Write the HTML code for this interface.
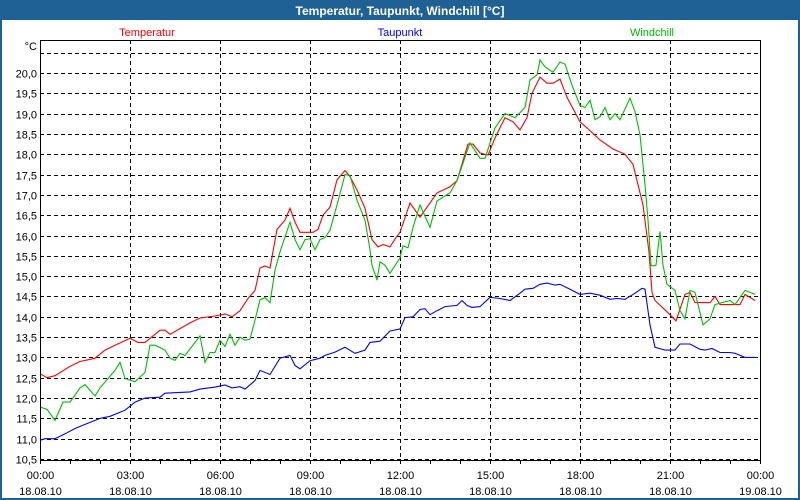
<!DOCTYPE html>
<html><head><meta charset="utf-8">
<style>
body{margin:0;background:#fff;}
#wrap{position:relative;width:800px;height:500px;overflow:hidden;font-family:"Liberation Sans",sans-serif;}
svg text{font-family:"Liberation Sans",sans-serif;}
</style></head>
<body>
<div id="wrap">
<svg id="chart" width="800" height="500">
<rect x="0" y="0" width="800" height="500" fill="#1f6195"/>
<rect x="2" y="20" width="796" height="478" fill="#ffffff"/>
<text x="400" y="15" fill="#fff" font-size="12" font-weight="bold" text-anchor="middle">Temperatur, Taupunkt, Windchill [°C]</text>
<text x="147" y="36" fill="#ff0000" font-size="11" text-anchor="middle">Temperatur</text>
<text x="400" y="36" fill="#0000ff" font-size="11" text-anchor="middle">Taupunkt</text>
<text x="652" y="36" fill="#00bb00" font-size="11" text-anchor="middle">Windchill</text>
<text x="37" y="50" fill="#000" font-size="11" text-anchor="end">°C</text>
<g id="grid"></g><g id="series"></g><g id="axes"></g>
</svg>
</div>
<script>
const yTicks=[10.5,11.0,11.5,12.0,12.5,13.0,13.5,14.0,14.5,15.0,15.5,16.0,16.5,17.0,17.5,18.0,18.5,19.0,19.5,20.0,20.5];
const xTickTimes=["00:00","03:00","06:00","09:00","12:00","15:00","18:00","21:00","00:00"];
const xTickDates=["18.08.10","18.08.10","18.08.10","18.08.10","18.08.10","18.08.10","18.08.10","18.08.10","19.08.10"];
const tempMin=[0,14,30,60,80,110,130,150,180,196,210,230,240,250,260,300,320,350,370,384,400,416,430,440,450,460,474,490,500,510,520,546,556,566,580,594,610,620,634,650,664,676,686,700,712,720,740,760,794,820,834,856,866,880,896,910,930,946,960,974,984,1000,1014,1026,1040,1054,1080,1094,1120,1146,1170,1186,1196,1206,1218,1224,1230,1260,1272,1290,1300,1310,1340,1350,1360,1400,1410,1430];
const tempVal=[12.6,12.5,12.55,12.78,12.9,12.98,13.18,13.3,13.47,13.37,13.37,13.57,13.67,13.67,13.57,13.85,13.97,14.02,14.07,14.0,14.15,14.45,14.65,15.2,15.25,15.2,16.15,16.38,16.67,16.33,16.08,16.08,16.15,16.5,16.7,17.37,17.6,17.45,17.12,16.67,15.9,15.72,15.78,15.72,15.95,16.08,16.8,16.45,17.05,17.2,17.35,18.25,18.25,18.03,17.98,18.4,18.9,18.8,18.6,18.9,19.5,19.9,19.75,19.75,19.85,19.4,18.8,18.65,18.35,18.13,18.0,17.75,17.25,16.75,15.6,14.6,14.4,14.05,13.9,14.55,14.6,14.35,14.35,14.5,14.3,14.3,14.55,14.4];
const windMin=[0,14,30,46,60,66,80,90,110,120,150,160,170,190,210,220,230,250,260,270,280,290,320,330,340,350,360,370,380,390,400,410,420,430,440,450,460,470,480,500,510,520,530,540,550,560,570,580,594,610,620,634,650,660,664,674,680,690,700,720,726,736,746,760,780,794,820,834,860,880,890,910,930,950,970,980,994,1000,1010,1026,1040,1050,1064,1080,1090,1100,1110,1120,1130,1140,1150,1160,1180,1190,1200,1210,1216,1222,1226,1232,1240,1246,1254,1270,1280,1290,1300,1310,1326,1340,1350,1380,1390,1410,1430];
const windVal=[11.78,11.72,11.45,11.9,11.9,12.0,12.25,12.33,12.05,12.25,12.68,12.88,12.48,12.4,12.63,13.3,13.3,13.18,12.98,12.93,13.1,13.05,13.53,12.88,13.12,13.12,13.42,13.27,13.57,13.3,13.5,13.42,13.45,13.92,14.42,14.47,14.35,15.15,15.6,16.33,15.9,15.65,15.9,15.92,15.65,15.9,15.95,16.13,16.75,17.5,17.48,16.87,16.38,15.65,15.27,14.9,15.35,15.27,15.07,15.45,15.75,15.7,16.2,16.75,16.2,16.85,17.05,17.35,18.28,17.9,17.9,18.65,19.0,18.9,19.15,19.83,19.95,20.32,20.15,20.02,20.27,20.22,19.7,19.2,19.15,19.33,18.85,18.92,19.15,18.85,19.0,18.85,19.38,19.05,18.48,17.25,16.38,15.27,15.25,15.27,16.1,15.27,14.8,14.65,14.15,13.95,14.65,14.6,13.8,13.95,14.3,14.4,14.3,14.65,14.55];
const dewMin=[0,10,30,50,70,90,120,140,160,170,180,190,210,240,250,300,320,350,370,384,400,410,430,440,460,480,500,510,520,540,560,570,590,610,630,650,660,680,700,720,730,746,760,770,780,794,810,834,844,854,864,880,900,920,940,960,970,986,1000,1014,1030,1040,1060,1080,1100,1120,1140,1154,1170,1190,1204,1210,1220,1230,1250,1270,1280,1300,1320,1330,1344,1360,1380,1390,1410,1430];
const dewVal=[10.96,11.0,11.0,11.12,11.25,11.35,11.5,11.55,11.65,11.7,11.8,11.9,12.0,12.02,12.12,12.15,12.22,12.27,12.32,12.25,12.28,12.22,12.43,12.68,12.58,12.98,13.05,12.8,12.72,12.92,12.98,13.05,13.13,13.25,13.1,13.18,13.37,13.4,13.65,13.7,13.98,14.0,14.18,14.2,14.05,14.15,14.25,14.28,14.4,14.28,14.23,14.25,14.48,14.45,14.4,14.58,14.68,14.7,14.8,14.83,14.78,14.8,14.68,14.55,14.58,14.53,14.43,14.45,14.43,14.58,14.7,14.68,13.8,13.25,13.18,13.18,13.33,13.33,13.2,13.18,13.22,13.12,13.12,13.1,13.0,13.0];

const L=40,R=760,T=40,B=460;
const xs=m=>L+(m/1440)*(R-L);
const ys=v=>73+(20.0-v)*40.63;
const NS="http://www.w3.org/2000/svg";
function mk(tag,attrs,parent){const e=document.createElementNS(NS,tag);for(const k in attrs)e.setAttribute(k,attrs[k]);parent.appendChild(e);return e;}
const grid=document.getElementById('grid'),axes=document.getElementById('axes'),ser=document.getElementById('series');
yTicks.forEach(v=>{
  const y=Math.round(ys(v))+0.5;
  const ln=mk('line',{x1:L,x2:R,y1:y,y2:y,stroke:'#000','stroke-width':1,'stroke-dasharray':'4,3'},grid);
  
  
  if(v<=20.0){
    const t=mk('text',{x:37,y:y+4,'font-size':11,'text-anchor':'end',fill:'#000'},axes);
    t.textContent=v.toFixed(1).replace('.',',');
    
    
  }
});
xTickTimes.forEach((s,i)=>{
  const x=Math.round(xs(i*180))+0.5;
  if(i>0&&i<xTickTimes.length-1){
    const ln=mk('line',{x1:x,x2:x,y1:T,y2:B,stroke:'#000','stroke-width':1,'stroke-dasharray':'4,3'},grid);
    
    
  }
  const t=mk('text',{x:x,y:479,'font-size':11,'text-anchor':'middle',fill:'#000'},axes);
  t.textContent=s;
  
  
  const d=mk('text',{x:x,y:495,'font-size':11,'text-anchor':'middle',fill:'#000'},axes);
  d.textContent=xTickDates[i];
  
  
});
for(let h=0;h<=24;h++){
  const x=Math.round(xs(h*60))+0.5;
  const tk=mk('line',{x1:x,x2:x,y1:B,y2:B+4,stroke:'#000'},axes);
  
  
}
const frame=mk('path',{d:`M${L+0.5},${B+4} V${T+0.5} H${R+0.5} V${B+0.5} H${L}`,fill:'none',stroke:'#000'},axes);


function series(mins,vals,color,name){
  const pts=mins.map((m,i)=>xs(m).toFixed(1)+','+ys(vals[i]).toFixed(1)).join(' ');
  const p=mk('polyline',{points:pts,fill:'none',stroke:color,'stroke-width':1.1},ser);
  
  
}
series(dewMin,dewVal,'#0000ff','taupunkt-line');
series(tempMin,tempVal,'#ff0000','temperatur-line');
series(windMin,windVal,'#00c000','windchill-line');
</script>
</body></html>
